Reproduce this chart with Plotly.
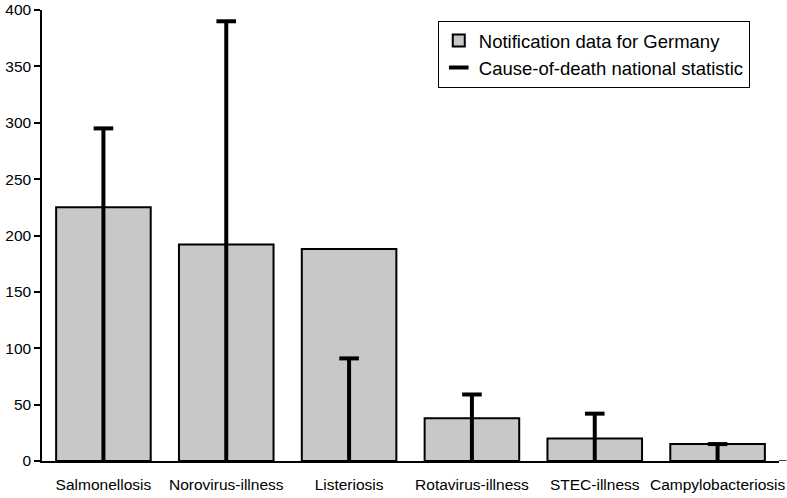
import plotly.graph_objects as go

categories = ["Salmonellosis", "Norovirus-illness", "Listeriosis",
              "Rotavirus-illness", "STEC-illness", "Campylobacteriosis"]
notification = [225, 192, 188, 38, 20, 15]
cause_of_death = [295, 390, 91, 59, 42, 15]
y_ticks = [0, 50, 100, 150, 200, 250, 300, 350, 400]

FONT = "Liberation Sans, Arial, sans-serif"

fig = go.Figure()
fig.add_trace(go.Bar(
    x=categories, y=notification, name="Notification data for Germany",
    marker=dict(color="#c8c8c8", line=dict(color="black", width=2)),
    width=0.77,
))
fig.add_trace(go.Scatter(
    x=categories, y=cause_of_death, name="Cause-of-death national statistic",
    mode="markers",
    marker=dict(symbol="line-ew", size=14, color="black",
                line=dict(color="black", width=4)),
    error_y=dict(type="data", symmetric=False, array=[0] * len(cause_of_death),
                 arrayminus=cause_of_death, color="black", thickness=4, width=0),
))

fig.update_layout(
    width=787, height=498,
    margin=dict(l=42, r=7.5, t=10, b=36.5, autoexpand=False),
    paper_bgcolor="white", plot_bgcolor="white",
    font=dict(family=FONT, size=15, color="black"),
    showlegend=True,
    legend=dict(x=0.537, y=0.9756, xanchor="left", yanchor="top",
                bordercolor="black", borderwidth=1, bgcolor="white",
                font=dict(size=18.5), tracegroupgap=0),
    bargap=0.23,
    shapes=[dict(type="line", xref="paper", yref="y", x0=1, x1=1.0102, y0=0, y1=0,
                 line=dict(color="black", width=1.5))],
)
fig.update_xaxes(showline=True, linecolor="black", linewidth=1.5,
                 ticks="", showgrid=False, zeroline=False, tickangle=0,
                 tickfont=dict(size=15.5), ticklabelstandoff=9)
fig.update_yaxes(range=[0, 400], tickvals=y_ticks, showline=True,
                 linecolor="black", linewidth=1.5, ticks="outside",
                 ticklen=6, tickwidth=1.5, tickcolor="black",
                 showgrid=False, zeroline=False, tickfont=dict(size=15.5),
                 ticklabeloverflow="allow")

fig.write_html("out.html",
               config={"displayModeBar": False},
               post_script="document.body.style.margin='0';")
